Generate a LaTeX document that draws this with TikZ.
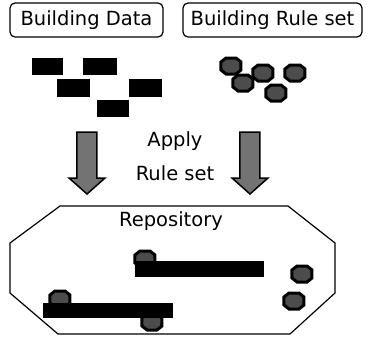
\documentclass[tikz,border=0pt]{standalone}
\usepackage{fontspec}
\setmainfont{DejaVu Sans}

\tikzset{
  chip/.pic={
    \filldraw[chipfill] (-10,-4) -- (-5,-8) -- (5,-8) -- (10,-4) -- (10,4) -- (5,8) -- (-5,8) -- (-10,4) -- cycle;
  },
  downarrow/.pic={
    \filldraw[fatarrow] (-10,0) -- (10,0) -- (10,46) -- (18,46) -- (0,62) -- (-18,46) -- (-10,46) -- cycle;
  }
}

\begin{document}
\begin{tikzpicture}[x=1pt,y=-1pt,
  titlebox/.style={draw, line width=1.2pt, rounded corners=5pt, minimum height=34pt, inner sep=0pt, font=\fontsize{19.5}{22}\selectfont},
  caption/.style={inner sep=0pt, font=\fontsize{19.5}{22}\selectfont},
  block/.style={fill=black},
  chipfill/.style={draw=black, line width=3pt, fill=black!70},
  fatarrow/.style={draw=black, line width=1.5pt, fill=black!55},
  store/.style={draw=black, line width=1.2pt}]
\useasboundingbox (0,0) rectangle (368,338);

% the two sources
\node[titlebox, minimum width=153pt] (data) at (86.5,20) {Building Data};
\node[titlebox, minimum width=179pt] (rules) at (272.5,20) {Building Rule set};

% building data blocks
\fill[block] (32,58) rectangle (63,75);
\fill[block] (83,58) rectangle (117,75);
\fill[block] (57,79) rectangle (90,97);
\fill[block] (129,79) rectangle (162,97);
\fill[block] (97,100) rectangle (129,117);

% rule tokens
\pic at (231,66) {chip};
\pic at (263,73) {chip};
\pic at (243,83) {chip};
\pic at (295,73) {chip};
\pic at (276,93) {chip};

% flow into the repository
\pic at (87,132) {downarrow};
\pic at (250,132) {downarrow};
\node[caption] (apply) at (175,141) {Apply};
\node[caption] (ruleset) at (175,173) {Rule set};

% repository
\draw[store] (60,206) -- (288,206) -- (335,243) -- (335,293) -- (290,334)
  -- (58,334) -- (10,293) -- (10,243) -- cycle;
\node[caption] (repo) at (171,221) {Repository};

\pic at (145,259) {chip};
\fill[block] (135,261) rectangle (264,277);
\pic at (60,299) {chip};
\pic at (152,322) {chip};
\fill[block] (43,303) rectangle (173,318);
\pic at (302,274) {chip};
\pic at (294,301) {chip};
\end{tikzpicture}
\end{document}
